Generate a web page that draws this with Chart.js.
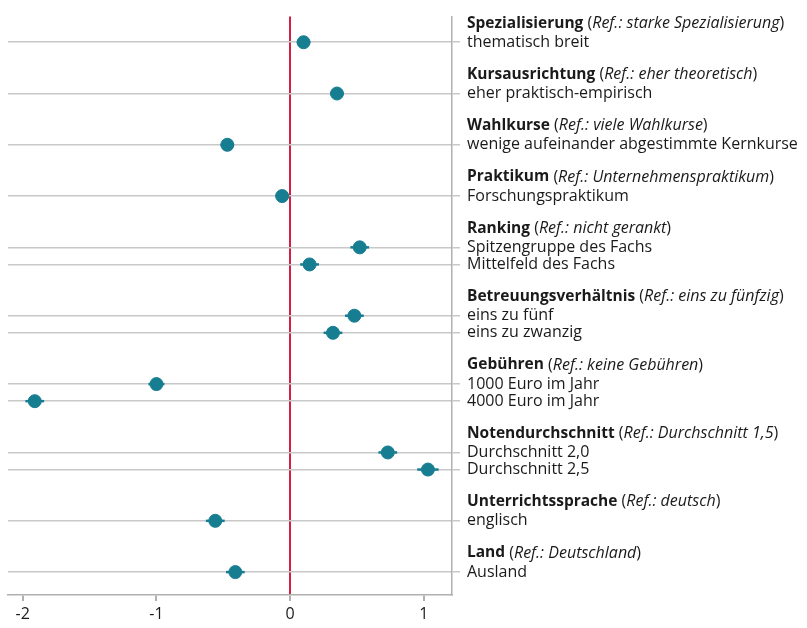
<!DOCTYPE html>
<html>
<head>
<meta charset="utf-8">
<script src="https://cdn.jsdelivr.net/npm/chart.js@4.4.1/dist/chart.umd.min.js"></script>
<style>
    body { margin: 0; background: #fff; }
    #wrap { width: 807px; height: 628px; }
</style>
</head>
<body>
<div id="wrap"><canvas id="koeff" width="807" height="628"></canvas></div>
<script>
// Merkmale (fett) und Referenzkategorien (kursiv)
const gruppen = ['Spezialisierung', 'Kursausrichtung', 'Wahlkurse', 'Praktikum', 'Ranking',
    'Betreuungsverhältnis', 'Gebühren', 'Notendurchschnitt', 'Unterrichtssprache', 'Land'];
const referenzen = ['starke Spezialisierung', 'eher theoretisch', 'viele Wahlkurse', 'Unternehmenspraktikum',
    'nicht gerankt', 'eins zu fünfzig', 'keine Gebühren', 'Durchschnitt 1,5', 'deutsch', 'Deutschland'];

// Ausprägungen, jeweils mit Gruppe, Koeffizient und Konfidenzintervall
const auspraegungen = ['thematisch breit', 'eher praktisch-empirisch', 'wenige aufeinander abgestimmte Kernkurse',
    'Forschungspraktikum', 'Spitzengruppe des Fachs', 'Mittelfeld des Fachs', 'eins zu fünf', 'eins zu zwanzig',
    '1000 Euro im Jahr', '4000 Euro im Jahr', 'Durchschnitt 2,0', 'Durchschnitt 2,5', 'englisch', 'Ausland'];
const gruppeVon = [0, 1, 2, 3, 4, 4, 5, 5, 6, 6, 7, 7, 8, 9];
const koeffizienten = [0.10, 0.35, -0.47, -0.06, 0.52, 0.145, 0.48, 0.32, -1.00, -1.91, 0.73, 1.03, -0.56, -0.41];
const ciUnten = [0.05, 0.30, -0.52, -0.11, 0.45, 0.075, 0.41, 0.25, -1.06, -1.98, 0.66, 0.95, -0.63, -0.48];
const ciOben  = [0.15, 0.40, -0.42, -0.01, 0.59, 0.215, 0.55, 0.39, -0.94, -1.84, 0.80, 1.11, -0.49, -0.34];
const xTicks = [-2, -1, 0, 1];

const SCHRIFT = '"Open Sans", Lato, sans-serif';
const TEAL = '#177d91';

// Zeilen: Kopfzeile, Ausprägungen, Leerzeile
const zeilen = [];
const posAuspraegung = [];
gruppen.forEach((g, gi) => {
    zeilen.push({ typ: 'kopf', gruppe: gi });
    gruppeVon.forEach((gv, i) => {
        if (gv === gi) {
            posAuspraegung[i] = zeilen.length;
            zeilen.push({ typ: 'item', index: i });
        }
    });
    if (gi < gruppen.length - 1) zeilen.push({ typ: 'leer' });
});

const punkte = koeffizienten.map((k, i) => ({ x: k, y: posAuspraegung[i] }));

// Fehlerbalken und Kopfzeilen zeichnen
const zusatz = {
    id: 'zusatz',
    beforeDatasetsDraw(chart) {
        const { ctx, scales: { x, y } } = chart;
        ctx.save();
        ctx.strokeStyle = TEAL;
        ctx.lineWidth = 2.5;
        koeffizienten.forEach((k, i) => {
            const py = y.getPixelForValue(posAuspraegung[i]);
            ctx.beginPath();
            ctx.moveTo(x.getPixelForValue(ciUnten[i]), py);
            ctx.lineTo(x.getPixelForValue(ciOben[i]), py);
            ctx.stroke();
        });
        ctx.restore();
    },
    afterDraw(chart) {
        const { ctx, scales: { y } } = chart;
        const x0 = y.left + 15;
        ctx.save();
        ctx.fillStyle = '#1a1a1a';
        ctx.textBaseline = 'middle';
        ctx.textAlign = 'left';
        zeilen.forEach((z, zi) => {
            if (z.typ !== 'kopf') return;
            const py = y.getPixelForValue(zi) - 2;
            const teile = [
                ['bold 15.5px ' + SCHRIFT, gruppen[z.gruppe]],
                ['16px ' + SCHRIFT, ' ('],
                ['italic 16px ' + SCHRIFT, 'Ref.: ' + referenzen[z.gruppe]],
                ['16px ' + SCHRIFT, ')']
            ];
            let px = x0;
            teile.forEach(([f, t]) => {
                ctx.font = f;
                ctx.fillText(t, px, py);
                px += ctx.measureText(t).width;
            });
        });
        ctx.restore();
    }
};

new Chart(document.getElementById('koeff'), {
    type: 'scatter',
    data: {
        datasets: [{
            data: punkte,
            backgroundColor: TEAL,
            borderColor: TEAL,
            pointRadius: 6.5,
            pointHoverRadius: 6.5
        }]
    },
    options: {
        responsive: false,
        animation: false,
        layout: { padding: { left: 8, top: 14, right: 0, bottom: 0 } },
        plugins: { legend: { display: false }, tooltip: { enabled: false } },
        scales: {
            x: {
                type: 'linear',
                min: -2.11,
                max: 1.21,
                afterBuildTicks: s => { s.ticks = xTicks.map(v => ({ value: v })); },
                afterFit: s => { s.height = 33; },
                grid: {
                    color: c => c.tick && c.tick.value === 0 ? '#d41f45' : 'transparent',
                    lineWidth: 2,
                    tickColor: '#b0b0b0',
                    tickLength: 6
                },
                border: { color: '#b0b0b0', width: 1.5 },
                ticks: {
                    color: '#1a1a1a',
                    padding: 4,
                    font: { family: SCHRIFT, size: 16 },
                    callback: v => String(v)
                }
            },
            y: {
                type: 'linear',
                position: 'right',
                reverse: true,
                min: -0.5,
                max: 33.34,
                afterBuildTicks: s => { s.ticks = zeilen.map((z, i) => ({ value: i })); },
                afterFit: s => { s.width = 355; },
                grid: {
                    color: c => c.tick && zeilen[c.tick.value] && zeilen[c.tick.value].typ === 'item' ? '#c8c8c8' : 'transparent',
                    lineWidth: 1.5,
                    tickLength: 8
                },
                border: { color: '#b0b0b0', width: 1.5 },
                ticks: {
                    color: '#1a1a1a',
                    padding: 7,
                    autoSkip: false,
                    font: { family: SCHRIFT, size: 16 },
                    callback: v => zeilen[v] && zeilen[v].typ === 'item' ? auspraegungen[zeilen[v].index] : ''
                }
            }
        }
    },
    plugins: [zusatz]
});
</script>
</body>
</html>
